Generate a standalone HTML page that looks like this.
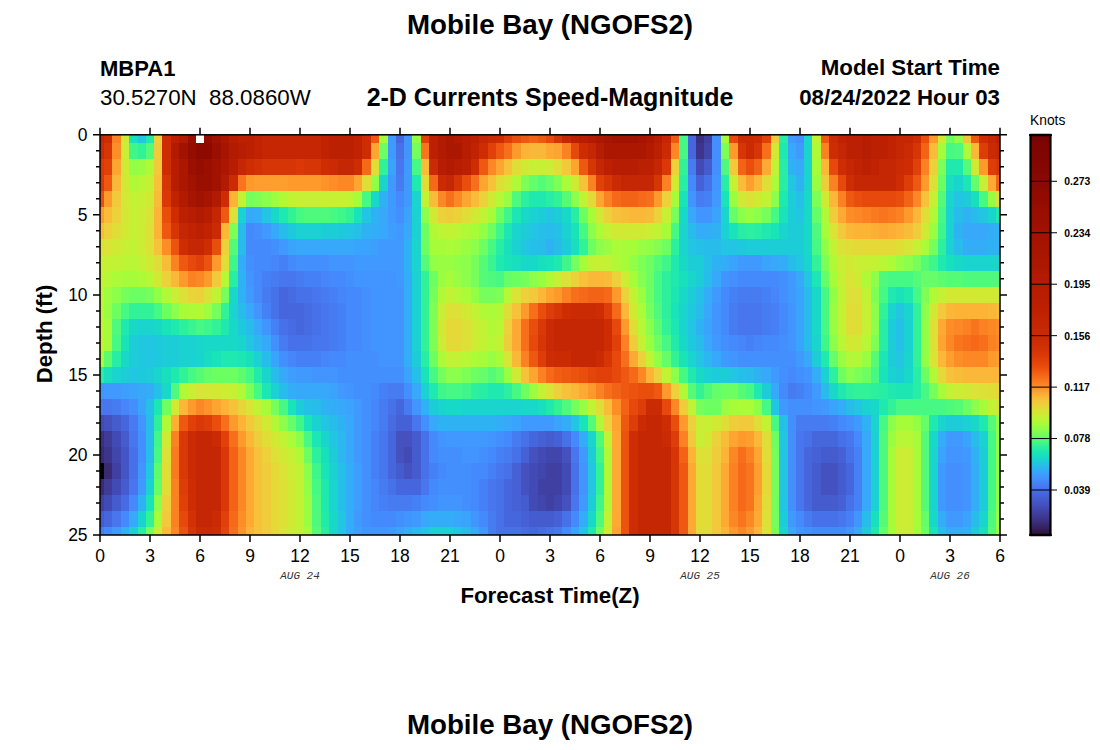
<!DOCTYPE html>
<html><head><meta charset="utf-8">
<style>
html,body{margin:0;padding:0;background:#fff;}
body{width:1100px;height:750px;position:relative;overflow:hidden;font-family:"Liberation Sans",sans-serif;color:#000;}
.t{position:absolute;white-space:pre;line-height:1;}
.b{font-weight:bold;}
svg{position:absolute;left:0;top:0;}
</style></head><body>
<div class="t b" id="title1" style="left:0;width:1100px;text-align:center;top:11.4px;font-size:27.7px;">Mobile Bay (NGOFS2)</div>
<div class="t b" id="stn" style="left:100px;top:57.6px;font-size:22px;">MBPA1</div>
<div class="t" id="ll" style="left:100px;top:87px;font-size:22.3px;">30.5270N  88.0860W</div>
<div class="t b" id="sub" style="left:0;width:1100px;text-align:center;top:84.5px;font-size:25px;">2-D Currents Speed-Magnitude</div>
<div class="t b" id="mst" style="right:100px;top:56.8px;font-size:22.3px;">Model Start Time</div>
<div class="t b" id="dt" style="right:100px;top:87.4px;font-size:22.3px;">08/24/2022 Hour 03</div>
<div class="t b" id="xl" style="left:0;width:1100px;text-align:center;top:585.4px;font-size:22.3px;">Forecast Time(Z)</div>
<div class="t b" id="yl" style="left:45px;top:334px;font-size:22.2px;transform:translate(-50%,-50%) rotate(-90deg);">Depth (ft)</div>
<div class="t b" id="title2" style="left:0;width:1100px;text-align:center;top:711.4px;font-size:27.7px;">Mobile Bay (NGOFS2)</div>
<div class="t" id="kn" style="left:1030px;top:114.2px;font-size:13.8px;">Knots</div>
<svg width="1100" height="750" viewBox="0 0 1100 750" shape-rendering="crispEdges"><path fill="#c52603" d="M100 135H104V143H100zM262 135H271V143H262zM271 135H279V143H271zM279 135H288V143H279zM288 135H296V143H288zM296 135H304V143H296zM304 135H312V143H304zM312 135H321V143H312zM479 135H488V143H479zM562 135H571V143H562zM662 135H671V143H662zM896 135H904V143H896zM904 135H913V143H904zM988 135H996V143H988zM262 143H271V159H262zM271 143H279V159H271zM279 143H288V159H279zM288 143H296V159H288zM296 143H304V159H296zM304 143H312V159H304zM312 143H321V159H312zM588 143H596V159H588zM838 143H846V159H838zM896 143H904V159H896zM996 143H1000V159H996zM238 159H246V175H238zM338 159H346V175H338zM346 159H354V175H346zM596 159H604V175H596zM654 159H662V175H654zM846 159H854V175H846zM879 159H888V175H879zM888 159H896V175H888zM446 175H454V191H446zM621 175H629V191H621zM629 175H638V191H629zM638 175H646V191H638zM646 175H654V191H646zM854 175H862V191H854zM862 175H871V191H862zM871 175H879V191H871zM879 175H888V191H879zM888 175H896V191H888zM212 207H221V223H212zM179 223H188V239H179zM188 239H196V255H188zM196 239H204V255H196zM554 319H562V335H554zM562 319H571V335H562zM571 319H579V335H571zM579 319H588V335H579zM588 319H596V335H588zM596 319H604V335H596zM554 335H562V351H554zM562 335H571V351H562zM571 335H579V351H571zM579 335H588V351H579zM588 335H596V351H588zM596 335H604V351H596zM571 351H579V367H571zM579 351H588V367H579zM588 351H596V367H588zM646 415H654V431H646zM654 415H662V431H654zM196 431H204V447H196zM204 431H212V447H204zM638 431H646V447H638zM646 431H654V447H646zM654 431H662V447H654zM196 447H204V463H196zM204 447H212V463H204zM212 447H221V463H212zM638 447H646V463H638zM646 447H654V463H646zM654 447H662V463H654zM662 447H671V463H662zM196 463H204V479H196zM204 463H212V479H204zM212 463H221V479H212zM638 463H646V479H638zM646 463H654V479H646zM654 463H662V479H654zM662 463H671V479H662zM196 479H204V495H196zM204 479H212V495H204zM212 479H221V495H212zM638 479H646V495H638zM646 479H654V495H646zM654 479H662V495H654zM662 479H671V495H662zM196 495H204V511H196zM204 495H212V511H204zM212 495H221V511H212zM638 495H646V511H638zM646 495H654V511H646zM654 495H662V511H654zM662 495H671V511H662zM196 511H204V527H196zM204 511H212V527H204zM638 511H646V527H638zM646 511H654V527H646zM654 511H662V527H654zM662 511H671V527H662zM638 527H646V535H638zM646 527H654V535H646zM654 527H662V535H654zM662 527H671V535H662z"/><path fill="#ce2d04" d="M104 135H112V143H104zM162 135H171V143H162zM362 135H371V143H362zM496 135H504V143H496zM754 135H762V143H754zM913 135H921V143H913zM979 135H988V143H979zM162 143H171V159H162zM362 143H371V159H362zM479 143H488V159H479zM579 143H588V159H579zM829 143H838V159H829zM162 159H171V175H162zM246 159H254V175H246zM321 159H329V175H321zM354 159H362V175H354zM471 159H479V175H471zM838 159H846V175H838zM904 159H913V175H904zM846 175H854V191H846zM896 175H904V191H896zM221 191H229V207H221zM171 207H179V223H171zM179 239H188V255H179zM204 239H212V255H204zM562 303H571V319H562zM596 303H604V319H596zM604 319H612V335H604zM604 335H612V351H604zM546 351H554V367H546zM662 415H671V431H662zM629 431H638V447H629zM629 447H638V463H629zM629 463H638V479H629zM188 479H196V495H188zM629 479H638V495H629zM188 495H196V511H188zM629 495H638V511H629zM629 511H638V527H629zM212 527H221V535H212zM629 527H638V535H629z"/><path fill="#fb8122" d="M112 135H121V143H112zM562 143H571V159H562zM821 143H829V159H821zM921 159H929V175H921zM588 175H596V191H588zM662 175H671V191H662zM829 175H838V191H829zM604 191H612V207H604zM838 191H846V207H838zM862 207H871V223H862zM896 207H904V223H896zM171 255H179V271H171zM188 271H196V287H188zM562 287H571V303H562zM963 319H971V335H963zM979 319H988V335H979zM621 335H629V351H621zM988 335H996V351H988zM521 351H529V367H521zM538 367H546V383H538zM596 383H604V399H596zM171 431H179V447H171zM679 431H688V447H679zM746 447H754V463H746zM729 463H738V479H729zM171 479H179V495H171zM729 479H738V495H729zM171 495H179V511H171zM729 495H738V511H729zM171 511H179V527H171z"/><path fill="#d0ea34" d="M121 135H129V143H121zM938 135H946V143H938zM771 143H779V159H771zM121 159H129V175H121zM521 159H529V175H521zM971 159H979V175H971zM121 175H129V191H121zM504 175H512V191H504zM571 175H579V191H571zM671 175H679V191H671zM146 191H154V207H146zM488 191H496V207H488zM738 191H746V207H738zM754 191H762V207H754zM821 191H829V207H821zM429 207H438V223H429zM471 207H479V223H471zM596 207H604V223H596zM121 223H129V239H121zM612 223H621V239H612zM621 223H629V239H621zM629 223H638V239H629zM638 223H646V239H638zM921 223H929V239H921zM112 239H121V255H112zM146 255H154V271H146zM846 255H854V271H846zM154 271H162V287H154zM854 271H862V287H854zM946 287H954V303H946zM954 287H963V303H954zM963 287H971V303H963zM971 287H979V303H971zM979 287H988V303H979zM988 287H996V303H988zM996 287H1000V303H996zM462 303H471V319H462zM629 303H638V319H629zM929 303H938V319H929zM438 319H446V335H438zM846 335H854V351H846zM854 335H862V351H854zM512 367H521V383H512zM212 383H221V399H212zM963 383H971V399H963zM171 399H179V415H171zM996 399H1000V415H996zM262 415H271V431H262zM712 415H721V431H712zM162 431H171V447H162zM271 431H279V447H271zM704 431H712V447H704zM279 447H288V463H279zM288 479H296V495H288zM288 495H296V511H288zM288 511H296V527H288z"/><path fill="#18e0bd" d="M129 135H138V143H129zM946 175H954V191H946zM971 191H979V207H971zM504 239H512V255H504zM571 239H579V255H571zM512 255H521V271H512zM538 255H546V271H538zM946 255H954V271H946zM679 271H688V287H679zM246 351H254V367H246zM104 367H112V383H104zM162 367H171V383H162zM538 399H546V415H538zM321 447H329V463H321zM871 511H879V527H871zM979 527H988V535H979z"/><path fill="#22c5e2" d="M138 135H146V143H138zM788 175H796V191H788zM954 191H963V207H954zM262 207H271V223H262zM362 207H371V223H362zM546 207H554V223H546zM796 207H804V223H796zM979 207H988V223H979zM346 223H354V239H346zM529 223H538V239H529zM521 239H529V255H521zM688 239H696V255H688zM721 239H729V255H721zM729 239H738V255H729zM796 255H804V271H796zM804 271H812V287H804zM896 303H904V319H896zM688 319H696V335H688zM146 335H154V351H146zM246 335H254V351H246zM146 351H154V367H146zM696 351H704V367H696zM896 351H904V367H896zM129 367H138V383H129zM729 367H738V383H729zM771 399H779V415H771zM854 399H862V415H854zM321 415H329V431H321zM571 415H579V431H571zM329 431H338V447H329zM779 431H788V447H779zM779 447H788V463H779zM146 463H154V479H146zM588 463H596V479H588zM779 463H788V479H779zM588 479H596V495H588zM779 479H788V495H779zM779 495H788V511H779zM338 511H346V527H338zM338 527H346V535H338zM421 527H429V535H421zM579 527H588V535H579z"/><path fill="#1fe9af" d="M146 135H154V143H146zM779 143H788V159H779zM946 159H954V175H946zM954 159H963V175H954zM412 175H421V191H412zM529 191H538V207H529zM538 191H546V207H538zM779 191H788V207H779zM279 207H288V223H279zM996 207H1000V223H996zM762 223H771V239H762zM496 255H504V271H496zM554 255H562V271H554zM671 255H679V271H671zM938 255H946V271H938zM671 271H679V287H671zM888 287H896V303H888zM904 287H913V303H904zM121 319H129V335H121zM171 319H179V335H171zM221 319H229V335H221zM221 351H229V367H221zM229 351H238V367H229zM821 351H829V367H821zM171 367H179V383H171zM688 367H696V383H688zM429 383H438V399H429zM488 383H496V399H488zM496 383H504V399H496zM754 383H762V399H754zM838 383H846V399H838zM888 383H896V399H888zM546 399H554V415H546zM879 399H888V415H879zM929 415H938V431H929zM979 415H988V431H979zM321 479H329V495H321zM321 495H329V511H321zM588 527H596V535H588zM871 527H879V535H871z"/><path fill="#ecd13a" d="M154 135H162V143H154zM671 159H679V175H671zM929 159H938V175H929zM479 191H488V207H479zM662 191H671V207H662zM112 207H121V223H112zM438 207H446V223H438zM454 207H462V223H454zM604 207H612V223H604zM654 207H662V223H654zM104 223H112V239H104zM221 239H229V255H221zM162 271H171V287H162zM571 271H579V287H571zM612 271H621V287H612zM196 287H204V303H196zM521 287H529V303H521zM621 287H629V303H621zM504 319H512V335H504zM638 351H646V367H638zM654 367H662V383H654zM554 383H562V399H554zM671 383H679V399H671zM604 415H612V431H604zM688 415H696V431H688zM712 431H721V447H712zM262 447H271V463H262zM162 495H171V511H162z"/><path fill="#bc2002" d="M171 135H179V143H171zM238 135H246V143H238zM246 135H254V143H246zM329 135H338V143H329zM338 135H346V143H338zM346 135H354V143H346zM429 135H438V143H429zM471 135H479V143H471zM571 135H579V143H571zM846 135H854V143H846zM854 135H862V143H854zM871 135H879V143H871zM879 135H888V143H879zM996 135H1000V143H996zM246 143H254V159H246zM329 143H338V159H329zM338 143H346V159H338zM346 143H354V159H346zM429 143H438V159H429zM654 143H662V159H654zM846 143H854V159H846zM854 143H862V159H854zM871 143H879V159H871zM879 143H888V159H879zM462 159H471V175H462zM604 159H612V175H604zM638 159H646V175H638zM646 159H654V175H646zM862 159H871V175H862zM179 207H188V223H179zM196 223H204V239H196z"/><path fill="#b21a01" d="M179 135H188V143H179zM438 135H446V143H438zM454 135H462V143H454zM588 135H596V143H588zM171 143H179V159H171zM229 143H238V159H229zM438 143H446V159H438zM646 143H654V159H646zM446 159H454V175H446zM221 175H229V191H221zM179 191H188V207H179zM212 191H221V207H212zM196 207H204V223H196z"/><path fill="#9b0f01" d="M188 135H196V143H188zM212 143H221V159H212zM188 159H196V175H188zM204 159H212V175H204zM196 175H204V191H196zM204 175H212V191H204z"/><path fill="#8e0a01" d="M196 135H204V143H196zM196 143H204V159H196zM204 143H212V159H204z"/><path fill="#950d01" d="M204 135H212V143H204zM188 143H196V159H188zM196 159H204V175H196z"/><path fill="#a11201" d="M212 135H221V143H212zM612 135H621V143H612zM621 135H629V143H621zM629 135H638V143H629zM179 143H188V159H179zM212 159H221V175H212zM188 175H196V191H188zM212 175H221V191H212zM196 191H204V207H196z"/><path fill="#ac1701" d="M221 135H229V143H221zM446 135H454V143H446zM596 135H604V143H596zM646 135H654V143H646zM446 143H454V159H446zM454 143H462V159H454zM604 143H612V159H604zM612 143H621V159H612zM621 143H629V159H621zM629 143H638V159H629zM638 143H646V159H638zM179 159H188V175H179zM221 159H229V175H221zM179 175H188V191H179z"/><path fill="#b71d02" d="M229 135H238V143H229zM462 135H471V143H462zM579 135H588V143H579zM654 135H662V143H654zM862 135H871V143H862zM238 143H246V159H238zM462 143H471V159H462zM596 143H604V159H596zM862 143H871V159H862zM171 159H179V175H171zM229 159H238V175H229zM438 159H446V175H438zM454 159H462V175H454zM612 159H621V175H612zM621 159H629V175H621zM629 159H638V175H629zM171 175H179V191H171zM188 207H196V223H188zM204 207H212V223H204z"/><path fill="#c12302" d="M254 135H262V143H254zM321 135H329V143H321zM354 135H362V143H354zM838 135H846V143H838zM888 135H896V143H888zM254 143H262V159H254zM321 143H329V159H321zM354 143H362V159H354zM471 143H479V159H471zM888 143H896V159H888zM854 159H862V175H854zM871 159H879V175H871zM171 191H179V207H171zM188 223H196V239H188zM204 223H212V239H204z"/><path fill="#ef5811" d="M371 135H379V143H371zM521 135H529V143H521zM538 135H546V143H538zM671 135H679V143H671zM821 135H829V143H821zM971 135H979V143H971zM496 143H504V159H496zM479 159H488V175H479zM579 159H588V175H579zM104 175H112V191H104zM913 175H921V191H913zM846 191H854V207H846zM221 207H229V223H221zM162 223H171V239H162zM179 255H188V271H179zM529 351H538V367H529zM562 367H571V383H562zM621 367H629V383H621zM621 383H629V399H621zM654 383H662V399H654zM179 415H188V431H179zM621 415H629V431H621zM679 463H688V479H679zM679 479H688V495H679zM679 495H688V511H679zM679 511H688V527H679zM679 527H688V535H679z"/><path fill="#a7fc3a" d="M379 135H388V143H379zM721 135H729V143H721zM938 143H946V159H938zM812 159H821V175H812zM354 191H362V207H354zM671 191H679V207H671zM488 207H496V223H488zM588 207H596V223H588zM471 223H479V239H471zM662 223H671V239H662zM821 223H829V239H821zM429 239H438V255H429zM438 239H446V255H438zM454 239H462V255H454zM621 239H629V255H621zM629 239H638V255H629zM579 255H588V271H579zM621 255H629V271H621zM121 271H129V287H121zM129 271H138V287H129zM446 271H454V287H446zM629 271H638V287H629zM829 271H838V287H829zM179 303H188V319H179zM104 319H112V335H104zM104 335H112V351H104zM100 351H104V367H100zM479 351H488V367H479zM496 351H504V367H496zM938 383H946V399H938zM262 399H271V415H262zM729 399H738V415H729zM979 399H988V415H979zM896 415H904V431H896zM904 415H913V431H904zM913 431H921V447H913zM888 447H896V463H888zM913 447H921V463H913zM888 463H896V479H888zM913 463H921V479H913zM888 479H896V495H888zM913 479H921V495H913zM888 495H896V511H888zM913 495H921V511H913zM154 511H162V527H154zM888 511H896V527H888zM913 511H921V527H913zM304 527H312V535H304zM888 527H896V535H888zM913 527H921V535H913z"/><path fill="#4099ff" d="M388 135H396V143H388zM788 135H796V143H788zM388 143H396V159H388zM796 143H804V159H796zM404 159H412V175H404zM388 175H396V191H388zM404 175H412V191H404zM388 191H396V207H388zM404 191H412V207H404zM712 191H721V207H712zM388 207H396V223H388zM262 223H271V239H262zM396 223H404V239H396zM279 239H288V255H279zM379 239H388V255H379zM388 239H396V255H388zM396 239H404V255H396zM354 255H362V271H354zM362 255H371V271H362zM371 255H379V271H371zM379 255H388V271H379zM388 255H396V271H388zM396 255H404V271H396zM738 255H746V271H738zM746 255H754V271H746zM754 255H762V271H754zM396 271H404V287H396zM788 271H796V287H788zM246 287H254V303H246zM712 287H721V303H712zM788 287H796V303H788zM712 335H721V351H712zM721 351H729V367H721zM796 351H804V367H796zM296 367H304V383H296zM304 367H312V383H304zM771 367H779V383H771zM104 383H112V399H104zM112 383H121V399H112zM338 383H346V399H338zM812 383H821V399H812zM354 399H362V415H354zM779 399H788V415H779zM821 399H829V415H821zM354 415H362V431H354zM521 415H529V431H521zM529 415H538V431H529zM538 415H546V431H538zM546 415H554V431H546zM854 415H862V431H854zM354 431H362V447H354zM446 431H454V447H446zM454 431H462V447H454zM462 431H471V447H462zM471 431H479V447H471zM479 431H488V447H479zM946 431H954V447H946zM954 431H963V447H954zM354 447H362V463H354zM579 447H588V463H579zM963 447H971V463H963zM938 463H946V479H938zM138 479H146V495H138zM938 479H946V495H938zM579 495H588V511H579zM938 495H946V511H938zM354 511H362V527H354zM412 511H421V527H412zM788 511H796V527H788zM946 511H954V527H946zM954 511H963V527H954zM112 527H121V535H112zM388 527H396V535H388z"/><path fill="#4666dd" d="M396 135H404V143H396zM688 135H696V143H688zM688 143H696V159H688zM279 287H288V303H279zM279 303H288V319H279zM288 303H296V319H288zM296 303H304V319H296zM296 319H304V335H296zM396 399H404V415H396zM121 415H129V431H121zM388 431H396V447H388zM529 431H538V447H529zM812 431H821V447H812zM821 431H829V447H821zM829 431H838V447H829zM388 447H396V463H388zM804 447H812V463H804zM388 463H396V479H388zM804 463H812V479H804zM846 463H854V479H846zM396 479H404V495H396zM404 479H412V495H404zM412 479H421V495H412zM504 479H512V495H504zM804 479H812V495H804zM846 479H854V495H846zM504 495H512V511H504zM804 495H812V511H804zM104 511H112V527H104zM504 511H512V527H504zM512 511H521V527H512zM529 527H538V535H529z"/><path fill="#4294ff" d="M404 135H412V143H404zM404 143H412V159H404zM712 175H721V191H712zM688 191H696V207H688zM696 207H704V223H696zM704 207H712V223H704zM329 255H338V271H329zM338 255H346V271H338zM346 255H354V271H346zM246 271H254V287H246zM354 271H362V287H354zM362 271H371V287H362zM371 271H379V287H371zM379 271H388V287H379zM388 271H396V287H388zM721 271H729V287H721zM371 287H379V303H371zM379 287H388V303H379zM388 287H396V303H388zM396 287H404V303H396zM254 303H262V319H254zM371 303H379V319H371zM379 303H388V319H379zM388 303H396V319H388zM396 303H404V319H396zM712 303H721V319H712zM788 303H796V319H788zM262 319H271V335H262zM371 319H379V335H371zM379 319H388V335H379zM388 319H396V335H388zM396 319H404V335H396zM712 319H721V335H712zM788 319H796V335H788zM371 335H379V351H371zM379 335H388V351H379zM388 335H396V351H388zM396 335H404V351H396zM788 335H796V351H788zM379 351H388V367H379zM388 351H396V367H388zM396 351H404V367H396zM729 351H738V367H729zM312 367H321V383H312zM321 367H329V383H321zM329 367H338V383H329zM804 367H812V383H804zM100 383H104V399H100zM346 383H354V399H346zM412 399H421V415H412zM812 399H821V415H812zM138 415H146V431H138zM438 431H446V447H438zM488 431H496V447H488zM462 447H471V463H462zM471 447H479V463H471zM946 447H954V463H946zM954 447H963V463H954zM138 463H146V479H138zM579 463H588V479H579zM963 463H971V479H963zM579 479H588V495H579zM963 479H971V495H963zM438 495H446V511H438zM446 495H454V511H446zM454 495H462V511H454zM963 495H971V511H963zM404 511H412V527H404zM471 511H479V527H471zM854 511H862V527H854zM362 527H371V535H362zM371 527H379V535H371zM379 527H388V535H379zM479 527H488V535H479zM796 527H804V535H796zM846 527H854V535H846z"/><path fill="#92ff47" d="M412 135H421V143H412zM954 135H963V143H954zM129 159H138V175H129zM371 175H379V191H371zM479 223H488V239H479zM646 239H654V255H646zM821 239H829V255H821zM429 255H438V271H429zM454 255H462V271H454zM629 255H638V271H629zM154 287H162V303H154zM471 287H479V303H471zM829 287H838V303H829zM921 319H929V335H921zM921 335H929V351H921zM654 351H662V367H654zM921 351H929V367H921zM754 399H762V415H754zM913 415H921V431H913zM996 415H1000V431H996zM996 431H1000V447H996zM996 447H1000V463H996zM996 463H1000V479H996zM304 479H312V495H304zM996 479H1000V495H996zM996 495H1000V511H996z"/><path fill="#e14109" d="M421 135H429V143H421zM762 135H771V143H762zM488 143H496V159H488zM104 159H112V175H104zM913 159H921V175H913zM596 175H604V191H596zM196 255H204V271H196zM612 335H621V351H612zM596 367H604V383H596zM604 367H612V383H604zM188 415H196V431H188zM221 431H229V447H221zM179 495H188V511H179zM221 511H229V527H221z"/><path fill="#ca2a04" d="M488 135H496V143H488zM738 135H746V143H738zM746 135H754V143H746zM829 135H838V143H829zM100 143H104V159H100zM662 143H671V159H662zM746 143H754V159H746zM904 143H913V159H904zM988 143H996V159H988zM329 159H338V175H329zM429 159H438V175H429zM896 159H904V175H896zM229 175H238V191H229zM438 175H446V191H438zM612 175H621V191H612zM212 223H221V239H212zM571 303H579V319H571zM579 303H588V319H579zM588 303H596V319H588zM546 319H554V335H546zM546 335H554V351H546zM554 351H562V367H554zM562 351H571V367H562zM596 351H604V367H596zM646 399H654V415H646zM654 399H662V415H654zM638 415H646V431H638zM188 431H196V447H188zM212 431H221V447H212zM662 431H671V447H662zM188 447H196V463H188zM188 463H196V479H188zM212 511H221V527H212zM196 527H204V535H196zM204 527H212V535H204z"/><path fill="#dd3d08" d="M504 135H512V143H504zM979 143H988V159H979zM988 159H996V175H988zM904 175H913V191H904zM546 303H554V319H546zM604 303H612V319H604zM538 351H546V367H538zM638 399H646V415H638zM204 415H212V431H204zM629 415H638V431H629zM671 431H679V447H671zM179 479H188V495H179z"/><path fill="#ea4e0d" d="M512 135H521V143H512zM921 135H929V143H921zM746 159H754V175H746zM462 175H471V191H462zM100 191H104V207H100zM854 191H862V207H854zM896 191H904V207H896zM162 207H171V223H162zM212 239H221V255H212zM538 303H546V319H538zM529 319H538V335H529zM579 367H588V383H579zM638 383H646V399H638zM646 383H654V399H646zM212 415H221V431H212zM671 415H679V431H671z"/><path fill="#f36315" d="M529 135H538V143H529zM921 143H929V159H921zM738 159H746V175H738zM754 159H762V175H754zM996 175H1000V191H996zM621 191H629V207H621zM629 191H638V207H629zM904 191H913V207H904zM588 287H596V303H588zM596 287H604V303H596zM612 383H621V399H612zM621 399H629V415H621zM229 447H238V463H229zM679 447H688V463H679zM229 463H238V479H229zM229 479H238V495H229zM229 495H238V511H229z"/><path fill="#e7490c" d="M546 135H554V143H546zM729 135H738V143H729zM571 143H579V159H571zM829 159H838V175H829zM838 175H846V191H838zM862 191H871V207H862zM871 191H879V207H871zM879 191H888V207H879zM888 191H896V207H888zM188 255H196V271H188zM612 319H621V335H612zM529 335H538V351H529zM612 351H621V367H612zM612 367H621V383H612zM629 399H638V415H629zM662 399H671V415H662zM179 511H188V527H179z"/><path fill="#d63506" d="M554 135H562V143H554zM104 143H112V159H104zM738 143H746V159H738zM754 143H762V159H754zM913 143H921V159H913zM262 159H271V175H262zM271 159H279V175H271zM279 159H288V175H279zM288 159H296V175H288zM304 159H312V175H304zM312 159H321V175H312zM588 159H596V175H588zM996 159H1000V175H996zM162 175H171V191H162zM454 175H462V191H454zM604 175H612V191H604zM654 175H662V191H654zM171 223H179V239H171zM554 303H562V319H554zM538 335H546V351H538zM604 351H612V367H604zM671 447H679V463H671zM671 463H679V479H671zM671 479H679V495H671zM671 495H679V511H671zM671 511H679V527H671zM188 527H196V535H188zM671 527H679V535H671z"/><path fill="#a71401" d="M604 135H612V143H604zM638 135H646V143H638zM221 143H229V159H221zM188 191H196V207H188zM204 191H212V207H204z"/><path fill="#46f884" d="M679 135H688V143H679zM679 143H688V159H679zM946 143H954V159H946zM412 159H421V175H412zM362 191H371V207H362zM979 191H988V207H979zM296 207H304V223H296zM329 207H338V223H329zM771 207H779V223H771zM938 207H946V223H938zM579 223H588V239H579zM671 223H679V239H671zM488 239H496V255H488zM812 239H821V255H812zM496 271H504V287H496zM654 271H662V287H654zM888 271H896V287H888zM896 271H904V287H896zM904 271H913V287H904zM654 287H662V303H654zM821 287H829V303H821zM879 287H888V303H879zM913 287H921V303H913zM121 303H129V319H121zM154 303H162V319H154zM821 303H829V319H821zM196 319H204V335H196zM821 319H829V335H821zM112 335H121V351H112zM662 335H671V351H662zM188 367H196V383H188zM246 367H254V383H246zM429 367H438V383H429zM679 367H688V383H679zM871 367H879V383H871zM254 383H262V399H254zM446 383H454V399H446zM454 383H462V399H454zM512 383H521V399H512zM746 383H754V399H746zM921 383H929V399H921zM279 399H288V415H279zM762 399H771V415H762zM896 399H904V415H896zM904 399H913V415H904zM913 399H921V415H913zM921 399H929V415H921zM929 399H938V415H929zM938 399H946V415H938zM771 415H779V431H771zM879 415H888V431H879zM304 431H312V447H304zM988 431H996V447H988zM154 447H162V463H154zM988 447H996V463H988zM988 463H996V479H988zM312 479H321V495H312zM988 479H996V495H988zM988 495H996V511H988z"/><path fill="#3b2f80" d="M696 135H704V143H696zM100 431H104V447H100z"/><path fill="#4040a2" d="M704 135H712V143H704zM112 463H121V479H112zM546 463H554V479H546zM554 463H562V479H554zM538 479H546V495H538zM546 479H554V495H546zM554 479H562V495H554zM100 495H104V511H100zM546 495H554V511H546z"/><path fill="#448ffe" d="M712 135H721V143H712zM796 135H804V143H796zM712 143H721V159H712zM712 159H721V175H712zM396 207H404V223H396zM254 223H262V239H254zM271 239H279V255H271zM246 255H254V271H246zM296 255H304V271H296zM304 255H312V271H304zM312 255H321V271H312zM321 255H329V271H321zM346 271H354V287H346zM729 271H738V287H729zM779 271H788V287H779zM362 287H371V303H362zM779 287H788V303H779zM362 303H371V319H362zM362 319H371V335H362zM271 335H279V351H271zM362 335H371V351H362zM721 335H729V351H721zM779 335H788V351H779zM279 351H288V367H279zM346 351H354V367H346zM354 351H362V367H354zM362 351H371V367H362zM371 351H379V367H371zM738 351H746V367H738zM746 351H754V367H746zM754 351H762V367H754zM762 351H771V367H762zM771 351H779V367H771zM779 351H788V367H779zM788 351H796V367H788zM338 367H346V383H338zM346 367H354V383H346zM354 367H362V383H354zM362 367H371V383H362zM371 367H379V383H371zM379 367H388V383H379zM388 367H396V383H388zM396 367H404V383H396zM779 367H788V383H779zM796 367H804V383H796zM354 383H362V399H354zM362 383H371V399H362zM404 383H412V399H404zM129 399H138V415H129zM362 399H371V415H362zM788 399H796V415H788zM796 399H804V415H796zM804 399H812V415H804zM362 415H371V431H362zM421 415H429V431H421zM788 415H796V431H788zM846 415H854V431H846zM138 431H146V447H138zM362 431H371V447H362zM496 431H504V447H496zM788 431H796V447H788zM138 447H146V463H138zM362 447H371V463H362zM438 447H446V463H438zM446 447H454V463H446zM454 447H462V463H454zM479 447H488V463H479zM788 447H796V463H788zM362 463H371V479H362zM446 463H454V479H446zM454 463H462V479H454zM462 463H471V479H462zM788 463H796V479H788zM946 463H954V479H946zM954 463H963V479H954zM362 479H371V495H362zM438 479H446V495H438zM446 479H454V495H446zM454 479H462V495H454zM462 479H471V495H462zM788 479H796V495H788zM946 479H954V495H946zM954 479H963V495H954zM362 495H371V511H362zM429 495H438V511H429zM462 495H471V511H462zM788 495H796V511H788zM946 495H954V511H946zM954 495H963V511H954zM362 511H371V527H362zM396 511H404V527H396zM804 527H812V535H804z"/><path fill="#f2c93a" d="M771 135H779V143H771zM154 159H162V175H154zM562 159H571V175H562zM729 159H738V175H729zM112 191H121V207H112zM838 223H846V239H838zM212 271H221V287H212zM529 287H538V303H529zM938 303H946V319H938zM246 415H254V431H246zM738 415H746V431H738zM746 415H754V431H746zM688 431H696V447H688zM712 463H721V479H712zM712 479H721V495H712zM712 495H721V511H712zM162 511H171V527H162zM712 511H721V527H712zM712 527H721V535H712z"/><path fill="#27eea4" d="M779 135H788V143H779zM779 159H788V175H779zM679 175H688V191H679zM721 175H729V191H721zM779 175H788V191H779zM546 191H554V207H546zM571 207H579V223H571zM738 223H746V239H738zM754 223H762V239H754zM496 239H504V255H496zM229 271H238V287H229zM879 319H888V335H879zM879 335H888V351H879zM112 351H121V367H112zM421 351H429V367H421zM100 367H104V383H100zM913 367H921V383H913zM479 383H488V399H479zM879 383H888V399H879zM913 383H921V399H913zM138 527H146V535H138zM321 527H329V535H321z"/><path fill="#19d5cd" d="M804 135H812V143H804zM804 143H812V159H804zM804 159H812V175H804zM379 175H388V191H379zM804 175H812V191H804zM954 175H963V191H954zM412 191H421V207H412zM946 191H954V207H946zM721 207H729V223H721zM988 207H996V223H988zM512 223H521V239H512zM679 223H688V239H679zM779 223H788V239H779zM412 239H421V255H412zM679 239H688V255H679zM412 255H421V271H412zM804 255H812V271H804zM963 255H971V271H963zM971 255H979V271H971zM979 255H988V271H979zM988 255H996V271H988zM996 255H1000V271H996zM688 271H696V287H688zM229 303H238V319H229zM679 303H688V319H679zM888 303H896V319H888zM904 303H913V319H904zM138 319H146V335H138zM146 319H154V335H146zM679 319H688V335H679zM196 335H204V351H196zM238 335H246V351H238zM812 335H821V351H812zM196 351H204V367H196zM688 351H696V367H688zM904 351H913V367H904zM112 367H121V383H112zM154 367H162V383H154zM262 367H271V383H262zM438 399H446V415H438zM462 399H471V415H462zM471 399H479V415H471zM479 399H488V415H479zM488 399H496V415H488zM496 399H504V415H496zM504 399H512V415H504zM512 399H521V415H512zM871 415H879V431H871zM938 415H946V431H938zM321 431H329V447H321zM588 431H596V447H588zM929 447H938V463H929zM929 463H938V479H929zM329 479H338V495H329zM929 479H938V495H929zM329 495H338V511H329zM929 495H938V511H929zM979 511H988V527H979zM779 527H788V535H779z"/><path fill="#c1f334" d="M812 135H821V143H812zM771 159H779V175H771zM129 191H138V207H129zM288 191H296V207H288zM346 191H354V207H346zM421 191H429V207H421zM579 191H588V207H579zM762 191H771V207H762zM479 207H488V223H479zM446 223H454V239H446zM604 223H612V239H604zM654 223H662V239H654zM129 239H138V255H129zM829 239H838V255H829zM112 255H121V271H112zM138 255H146V271H138zM588 255H596V271H588zM604 255H612V271H604zM871 255H879V271H871zM100 287H104V303H100zM212 287H221V303H212zM446 287H454V303H446zM629 287H638V303H629zM838 287H846V303H838zM862 287H871V303H862zM100 303H104V319H100zM471 303H479V319H471zM838 303H846V319H838zM479 319H488V335H479zM838 319H846V335H838zM479 335H488V351H479zM496 335H504V351H496zM446 351H454V367H446zM454 351H462V367H454zM646 351H654V367H646zM662 367H671V383H662zM538 383H546V399H538zM946 383H954V399H946zM254 399H262V415H254zM588 399H596V415H588zM688 399H696V415H688zM988 399H996V415H988zM762 415H771V431H762zM279 431H288V447H279zM604 431H612V447H604zM296 463H304V479H296zM296 479H304V495H296zM296 495H304V511H296zM296 511H304V527H296zM604 511H612V527H604zM296 527H304V535H296z"/><path fill="#fe992c" d="M929 135H938V143H929zM512 143H521V159H512zM729 143H738V159H729zM979 159H988V175H979zM246 175H254V191H246zM288 175H296V191H288zM296 175H304V191H296zM304 175H312V191H304zM312 175H321V191H312zM921 175H929V191H921zM104 191H112V207H104zM654 191H662V207H654zM100 207H104V223H100zM904 207H913V223H904zM212 255H221V271H212zM179 271H188V287H179zM204 271H212V287H204zM554 287H562V303H554zM612 287H621V303H612zM521 303H529V319H521zM621 319H629V335H621zM988 351H996V367H988zM588 383H596V399H588zM662 383H671V399H662zM188 399H196V415H188zM229 415H238V431H229zM679 415H688V431H679zM238 431H246V447H238zM738 431H746V447H738zM729 527H738V535H729zM746 527H754V535H746z"/><path fill="#6dfe62" d="M946 135H954V143H946zM379 143H388V159H379zM938 175H946V191H938zM496 207H504V223H496zM579 207H588V223H579zM421 223H429V239H421zM488 223H496V239H488zM421 239H429V255H421zM479 239H488V255H479zM588 239H596V255H588zM662 239H671V255H662zM646 255H654V271H646zM429 271H438V287H429zM512 271H521V287H512zM646 271H654V287H646zM129 287H138V303H129zM138 287H146V303H138zM646 287H654V303H646zM112 303H121V319H112zM162 303H171V319H162zM654 335H662V351H654zM429 351H438V367H429zM212 367H221V383H212zM221 367H229V383H221zM229 367H238V383H229zM471 367H479V383H471zM838 367H846V383H838zM862 367H871V383H862zM921 367H929V383H921zM521 383H529V399H521zM721 383H729V399H721zM729 383H738V399H729zM162 399H171V415H162zM704 399H712V415H704zM712 399H721V415H712zM963 399H971V415H963zM771 431H779V447H771zM304 447H312V463H304zM596 527H604V535H596zM921 527H929V535H921z"/><path fill="#f7c13a" d="M963 135H971V143H963zM504 159H512V175H504zM154 175H162V191H154zM488 175H496V191H488zM579 175H588V191H579zM921 191H929V207H921zM612 207H621V223H612zM154 239H162V255H154zM579 271H588V287H579zM512 303H521V319H512zM521 367H529V383H521zM946 367H954V383H946zM562 383H571V399H562zM229 399H238V415H229zM254 447H262V463H254zM254 463H262V479H254zM254 479H262V495H254zM254 495H262V511H254zM254 511H262V527H254zM254 527H262V535H254z"/><path fill="#fd8d27" d="M112 143H121V159H112zM329 175H338V191H329zM846 207H854V223H846zM162 239H171V255H162zM946 319H954V335H946zM996 319H1000V335H996zM954 351H963V367H954zM612 399H621V415H612zM238 511H246V527H238z"/><path fill="#cbed34" d="M121 143H129V159H121zM546 159H554V175H546zM138 207H146V223H138zM138 223H146V239H138zM646 223H654V239H646zM138 239H146V255H138zM100 255H104V271H100zM838 255H846V271H838zM854 255H862V271H854zM621 271H629V287H621zM171 287H179V303H171zM471 319H479V335H471zM438 335H446V351H438zM471 335H479V351H471zM188 383H196V399H188zM221 383H229V399H221zM954 383H963V399H954zM696 415H704V431H696zM896 447H904V463H896zM904 447H913V463H904zM288 463H296V479H288zM896 463H904V479H896zM904 463H913V479H904zM896 479H904V495H896zM904 479H913V495H904zM896 495H904V511H896zM904 495H913V511H904zM896 511H904V527H896zM904 511H913V527H904zM154 527H162V535H154zM288 527H296V535H288zM604 527H612V535H604zM896 527H904V535H896zM904 527H913V535H904z"/><path fill="#3ff68a" d="M129 143H138V159H129zM338 207H346V223H338zM504 207H512V223H504zM496 223H504V239H496zM938 223H946V239H938zM229 255H238V271H229zM562 255H571V271H562zM662 255H671V271H662zM929 255H938V271H929zM204 319H212V335H204zM821 335H829V351H821zM438 383H446V399H438zM462 383H471V399H462zM296 415H304V431H296zM154 431H162V447H154zM596 447H604V463H596zM312 463H321V479H312zM596 495H604V511H596z"/><path fill="#32f298" d="M138 143H146V159H138zM379 159H388V175H379zM679 159H688V175H679zM554 191H562V207H554zM288 207H296V223H288zM346 207H354V223H346zM579 239H588V255H579zM812 255H821V271H812zM421 271H429V287H421zM421 287H429V303H421zM129 303H138V319H129zM138 303H146V319H138zM146 303H154V319H146zM221 303H229V319H221zM421 303H429V319H421zM879 303H888V319H879zM913 303H921V319H913zM212 319H221V335H212zM421 319H429V335H421zM662 319H671V335H662zM913 319H921V335H913zM421 335H429V351H421zM913 335H921V351H913zM671 351H679V367H671zM913 351H921V367H913zM179 367H188V383H179zM696 383H704V399H696zM854 383H862V399H854zM862 383H871V399H862zM554 399H562V415H554zM888 399H896V415H888zM596 463H604V479H596zM596 479H604V495H596zM146 511H154V527H146z"/><path fill="#55fa76" d="M146 143H154V159H146zM963 159H971V175H963zM538 175H546V191H538zM562 191H571V207H562zM938 191H946V207H938zM229 239H238V255H229zM421 255H429V271H421zM479 255H488V271H479zM654 255H662V271H654zM921 255H929V271H921zM479 271H488V287H479zM913 271H921V287H913zM946 271H954V287H946zM954 271H963V287H954zM871 351H879V367H871zM196 367H204V383H196zM488 367H496V383H488zM688 383H696V399H688zM738 383H746V399H738zM954 399H963V415H954zM588 415H596V431H588zM988 415H996V431H988zM921 431H929V447H921zM921 447H929V463H921zM921 463H929V479H921zM921 479H929V495H921zM921 495H929V511H921zM879 511H888V527H879zM312 527H321V535H312zM988 527H996V535H988z"/><path fill="#efcd3a" d="M154 143H162V159H154zM821 175H829V191H821zM446 207H454V223H446zM829 207H838V223H829zM913 223H921V239H913zM504 335H512V351H504zM629 335H638V351H629zM679 399H688V415H679zM729 415H738V431H729zM254 431H262V447H254zM712 447H721V463H712zM262 463H271V479H262zM262 479H271V495H262zM262 495H271V511H262zM262 511H271V527H262zM262 527H271V535H262z"/><path fill="#fea431" d="M371 143H379V159H371zM554 143H562V159H554zM112 159H121V175H112zM496 159H504V175H496zM571 159H579V175H571zM354 175H362V191H354zM479 175H488V191H479zM462 191H471V207H462zM596 191H604V207H596zM546 287H554V303H546zM938 335H946V351H938zM529 367H538V383H529zM212 399H221V415H212zM612 415H621V431H612zM729 431H738V447H729zM754 447H762V463H754zM754 495H762V511H754zM612 527H621V535H612z"/><path fill="#4771e9" d="M396 143H404V159H396zM704 175H712V191H704zM271 287H279V303H271zM296 287H304V303H296zM304 287H312V303H304zM271 303H279V319H271zM312 303H321V319H312zM279 319H288V335H279zM312 319H321V335H312zM288 335H296V351H288zM296 335H304V351H296zM304 335H312V351H304zM388 399H396V415H388zM421 431H429V447H421zM521 431H529V447H521zM562 431H571V447H562zM804 431H812V447H804zM838 431H846V447H838zM129 447H138V463H129zM421 447H429V463H421zM512 447H521V463H512zM846 447H854V463H846zM129 463H138V479H129zM421 463H429V479H421zM504 463H512V479H504zM571 463H579V479H571zM388 479H396V495H388zM496 479H504V495H496zM571 479H579V495H571zM496 495H504V511H496zM846 495H854V511H846zM496 511H504V527H496zM562 511H571V527H562zM812 511H821V527H812zM821 511H829V527H821zM829 511H838V527H829zM496 527H504V535H496zM504 527H512V535H504zM512 527H521V535H512zM546 527H554V535H546z"/><path fill="#75fe5c" d="M412 143H421V159H412zM246 191H254V207H246zM671 207H679V223H671zM762 207H771V223H762zM929 239H938V255H929zM471 255H479V271H471zM571 255H579V271H571zM913 255H921V271H913zM471 271H479V287H471zM521 271H529V287H521zM121 287H129V303H121zM146 287H154V303H146zM221 287H229V303H221zM429 287H438V303H429zM479 287H488V303H479zM488 287H496V303H488zM212 303H221V319H212zM646 303H654V319H646zM438 367H446V383H438zM929 383H938V399H929zM271 399H279V415H271zM571 399H579V415H571zM696 399H704V415H696zM771 447H779V463H771zM771 463H779V479H771zM771 479H779V495H771zM771 495H779V511H771zM771 511H779V527H771zM146 527H154V535H146zM771 527H779V535H771z"/><path fill="#f9751d" d="M421 143H429V159H421zM238 175H246V191H238zM879 207H888V223H879zM971 319H979V335H971zM954 335H963V351H954zM746 463H754V479H746zM746 479H754V495H746zM746 495H754V511H746zM738 511H746V527H738z"/><path fill="#f76f1a" d="M504 143H512V159H504zM762 143H771V159H762zM471 175H479V191H471zM446 191H454V207H446zM646 191H654V207H646zM571 287H579V303H571zM529 303H538V319H529zM521 319H529V335H521zM521 335H529V351H521zM963 335H971V351H963zM979 335H988V351H979zM621 351H629V367H621zM604 383H612V399H604zM221 415H229V431H221zM229 431H238V447H229zM738 447H746V463H738zM229 527H238V535H229z"/><path fill="#fcb336" d="M521 143H529V159H521zM229 191H238V207H229zM154 207H162V223H154zM154 223H162V239H154zM854 223H862V239H854zM862 223H871V239H862zM896 223H904V239H896zM954 303H963V319H954zM963 303H971V319H963zM971 303H979V319H971zM979 303H988V319H979zM646 367H654V383H646zM221 399H229V415H221zM238 415H246V431H238zM688 447H696V463H688zM721 447H729V463H721zM246 527H254V535H246zM721 527H729V535H721z"/><path fill="#fbb838" d="M529 143H538V159H529zM538 143H546V159H538zM971 143H979V159H971zM821 159H829V175H821zM112 175H121V191H112zM754 175H762V191H754zM829 191H838V207H829zM629 207H638V223H629zM638 207H646V223H638zM913 207H921V223H913zM221 223H229V239H221zM846 223H854V239H846zM171 271H179V287H171zM588 271H596V287H588zM596 271H604V287H596zM538 287H546V303H538zM621 303H629V319H621zM946 303H954V319H946zM988 303H996V319H988zM512 351H521V367H512zM938 351H946V367H938zM963 367H971V383H963zM971 367H979V383H971zM979 367H988V383H979zM988 367H996V383H988zM996 367H1000V383H996zM571 383H579V399H571zM179 399H188V415H179zM246 431H254V447H246zM754 431H762V447H754zM754 527H762V535H754z"/><path fill="#fea933" d="M546 143H554V159H546zM762 159H771V175H762zM988 175H996V191H988zM838 207H846V223H838zM879 223H888V239H879zM512 319H521V335H512zM938 319H946V335H938zM512 335H521V351H512zM629 351H638V367H629zM579 383H588V399H579zM612 431H621V447H612zM246 447H254V463H246zM612 447H621V463H612zM246 463H254V479H246zM612 463H621V479H612zM688 463H696V479H688zM721 463H729V479H721zM246 479H254V495H246zM612 479H621V495H612zM688 479H696V495H688zM721 479H729V495H721zM246 495H254V511H246zM612 495H621V511H612zM688 495H696V511H688zM721 495H729V511H721zM246 511H254V527H246zM612 511H621V527H612zM688 511H696V527H688zM721 511H729V527H721zM754 511H762V527H754zM688 527H696V535H688z"/><path fill="#fc8725" d="M671 143H679V159H671zM488 159H496V175H488zM338 175H346V191H338zM346 175H354V191H346zM438 191H446V207H438zM454 191H462V207H454zM913 191H921V207H913zM854 207H862V223H854zM196 271H204V287H196zM954 319H963V335H954zM988 319H996V335H988zM946 335H954V351H946zM996 335H1000V351H996zM963 351H971V367H963zM971 351H979V367H971zM979 351H988V367H979zM638 367H646V383H638zM196 399H204V415H196zM671 399H679V415H671zM238 447H246V463H238zM729 447H738V463H729zM238 463H246V479H238zM238 479H246V495H238zM238 495H246V511H238zM729 511H738V527H729zM746 511H754V527H746zM171 527H179V535H171zM738 527H746V535H738z"/><path fill="#3d358b" d="M696 143H704V159H696zM104 447H112V463H104z"/><path fill="#4146ac" d="M704 143H712V159H704zM112 447H121V463H112zM546 447H554V463H546zM554 447H562V463H554zM538 463H546V479H538zM538 495H546V511H538zM554 495H562V511H554z"/><path fill="#7dff56" d="M721 143H729V159H721zM938 159H946V175H938zM521 175H529V191H521zM554 175H562V191H554zM254 191H262V207H254zM812 191H821V207H812zM229 223H238V239H229zM638 255H646V271H638zM821 255H829V271H821zM496 287H504V303H496zM871 287H879V303H871zM921 287H929V303H921zM429 303H438V319H429zM429 319H438V335H429zM429 335H438V351H429zM871 335H879V351H871zM462 367H471V383H462zM854 367H862V383H854zM246 383H254V399H246z"/><path fill="#37a8fa" d="M788 143H796V159H788zM796 159H804V175H796zM246 207H254V223H246zM379 207H388V223H379zM688 207H696V223H688zM271 223H279V239H271zM379 223H388V239H379zM404 223H412V239H404zM963 223H971V239H963zM971 223H979V239H971zM979 223H988V239H979zM296 239H304V255H296zM304 239H312V255H304zM312 239H321V255H312zM321 239H329V255H321zM329 239H338V255H329zM338 239H346V255H338zM346 239H354V255H346zM771 255H779V271H771zM712 271H721V287H712zM796 271H804V287H796zM246 303H254V319H246zM704 303H712V319H704zM254 319H262V335H254zM262 335H271V351H262zM704 335H712V351H704zM712 351H721V367H712zM804 351H812V367H804zM279 367H288V383H279zM762 367H771V383H762zM138 383H146V399H138zM296 383H304V399H296zM304 383H312V399H304zM312 383H321V399H312zM321 383H329V399H321zM412 383H421V399H412zM771 383H779V399H771zM338 399H346V415H338zM346 415H354V431H346zM429 415H438V431H429zM504 415H512V431H504zM346 431H354V447H346zM862 431H871V447H862zM346 447H354V463H346zM862 447H871V463H862zM862 463H871V479H862zM862 479H871V495H862zM862 495H871V511H862zM129 511H138V527H129zM421 511H429V527H421zM454 511H462V527H454zM471 527H479V535H471zM788 527H796V535H788zM854 527H862V535H854z"/><path fill="#b1f936" d="M812 143H821V159H812zM963 143H971V159H963zM146 159H154V175H146zM129 175H138V191H129zM512 175H521V191H512zM279 191H288V207H279zM821 207H829V223H821zM929 207H938V223H929zM429 223H438V239H429zM462 223H471V239H462zM612 255H621V271H612zM829 255H838V271H829zM546 271H554V287H546zM862 271H871V287H862zM162 287H171V303H162zM438 287H446V303H438zM929 287H938V303H929zM196 303H204V319H196zM479 303H488V319H479zM496 303H504V319H496zM488 319H496V335H488zM846 351H854V367H846zM854 351H862V367H854zM929 367H938V383H929zM179 383H188V399H179zM238 383H246V399H238zM679 383H688V399H679zM162 415H171V431H162zM271 415H279V431H271zM596 415H604V431H596zM296 447H304V463H296zM604 447H612V463H604zM604 463H612V479H604zM604 479H612V495H604zM604 495H612V511H604z"/><path fill="#f9bc39" d="M929 143H938V159H929zM421 159H429V175H421zM738 175H746V191H738zM154 191H162V207H154zM429 191H438V207H429zM471 191H479V207H471zM104 207H112V223H104zM621 207H629V223H621zM646 207H654V223H646zM100 223H104V239H100zM904 223H913V239H904zM162 255H171V271H162zM604 271H612V287H604zM996 303H1000V319H996zM954 367H963V383H954zM604 399H612V415H604zM721 431H729V447H721zM162 527H171V535H162z"/><path fill="#4ef97d" d="M954 143H963V159H954zM721 159H729V175H721zM512 191H521V207H512zM304 207H312V223H304zM312 207H321V223H312zM321 207H329V223H321zM812 223H821V239H812zM488 271H496V287H488zM879 271H888V287H879zM963 271H971V287H963zM971 271H979V287H971zM979 271H988V287H979zM988 271H996V287H988zM996 271H1000V287H996zM654 303H662V319H654zM112 319H121V335H112zM171 383H179V399H171zM704 383H712V399H704zM562 399H571V415H562zM946 399H954V415H946zM596 431H604V447H596zM879 431H888V447H879zM879 447H888V463H879zM879 463H888V479H879zM879 479H888V495H879zM312 495H321V511H312zM879 495H888V511H879zM312 511H321V527H312zM596 511H604V527H596zM988 511H996V527H988z"/><path fill="#da3907" d="M100 159H104V175H100zM296 159H304V175H296zM662 159H671V175H662zM100 175H104V191H100zM162 191H171V207H162zM538 319H546V335H538zM196 415H204V431H196zM179 431H188V447H179zM179 447H188V463H179zM221 447H229V463H221zM179 463H188V479H179zM221 463H229V479H221zM221 479H229V495H221zM221 495H229V511H221z"/><path fill="#99fe42" d="M138 159H146V175H138zM812 175H821V191H812zM504 191H512V207H504zM729 191H738V207H729zM988 191H996V207H988zM746 207H754V223H746zM929 223H938V239H929zM462 239H471V255H462zM604 239H612V255H604zM638 239H646V255H638zM438 255H446V271H438zM446 255H454V271H446zM896 255H904V271H896zM438 271H446V287H438zM454 271H462V287H454zM538 271H546V287H538zM638 287H646V303H638zM104 303H112V319H104zM829 303H838V319H829zM829 319H838V335H829zM646 335H654V351H646zM488 351H496V367H488zM838 351H846V367H838zM862 351H871V367H862zM504 367H512V383H504zM529 383H538V399H529zM579 399H588V415H579zM721 399H729V415H721zM888 431H896V447H888zM304 495H312V511H304zM304 511H312V527H304zM996 511H1000V527H996zM996 527H1000V535H996z"/><path fill="#d23105" d="M254 159H262V175H254zM188 511H196V527H188z"/><path fill="#f56918" d="M362 159H371V175H362zM429 175H438V191H429zM612 191H621V207H612zM638 191H646V207H638zM579 287H588V303H579zM604 287H612V303H604zM612 303H621V319H612zM971 335H979V351H971zM546 367H554V383H546zM629 367H638V383H629zM738 463H746V479H738zM738 479H746V495H738zM738 495H746V511H738zM229 511H238V527H229z"/><path fill="#e1dd37" d="M371 159H379V175H371zM512 159H521V175H512zM362 175H371V191H362zM421 175H429V191H421zM496 175H504V191H496zM762 175H771V191H762zM462 207H471V223H462zM921 207H929V223H921zM112 223H121V239H112zM100 239H104V255H100zM846 239H854V255H846zM896 239H904V255H896zM154 255H162V271H154zM221 255H229V271H221zM504 303H512V319H504zM846 303H854V319H846zM854 303H862V319H854zM629 319H638V335H629zM846 319H854V335H846zM854 319H862V335H854zM988 383H996V399H988zM596 399H604V415H596zM721 415H729V431H721zM754 415H762V431H754zM262 431H271V447H262zM762 431H771V447H762zM762 447H771V463H762zM162 463H171V479H162zM696 463H704V479H696zM704 463H712V479H704zM162 479H171V495H162zM696 479H704V495H696zM704 479H712V495H704zM696 495H704V511H696zM704 495H712V511H704zM762 495H771V511H762zM696 511H704V527H696zM704 511H712V527H704zM696 527H704V535H696zM704 527H712V535H704z"/><path fill="#3aa3fc" d="M388 159H396V175H388zM404 207H412V223H404zM712 207H721V223H712zM288 239H296V255H288zM354 239H362V255H354zM362 239H371V255H362zM729 255H738V271H729zM762 255H771V271H762zM796 287H804V303H796zM796 303H804V319H796zM704 319H712V335H704zM796 319H804V335H796zM796 335H804V351H796zM271 351H279V367H271zM404 367H412V383H404zM129 383H138V399H129zM329 383H338V399H329zM138 399H146V415H138zM346 399H354V415H346zM829 399H838V415H829zM512 415H521V431H512zM554 415H562V431H554zM963 431H971V447H963zM938 447H946V463H938zM462 511H471V527H462zM963 511H971V527H963zM396 527H404V535H396zM571 527H579V535H571z"/><path fill="#4776ee" d="M396 159H404V175H396zM279 271H288V287H279zM288 271H296V287H288zM312 287H321V303H312zM321 303H329V319H321zM738 303H746V319H738zM746 303H754V319H746zM754 303H762V319H754zM321 319H329V335H321zM738 319H746V335H738zM746 319H754V335H746zM754 319H762V335H754zM312 335H321V351H312zM321 335H329V351H321zM100 399H104V415H100zM104 399H112V415H104zM412 415H421V431H412zM129 431H138V447H129zM379 431H388V447H379zM796 431H804V447H796zM846 431H854V447H846zM379 447H388V463H379zM571 447H579V463H571zM796 447H804V463H796zM379 463H388V479H379zM496 463H504V479H496zM796 463H804V479H796zM129 479H138V495H129zM421 479H429V495H421zM488 479H496V495H488zM796 479H804V495H796zM488 495H496V511H488zM571 495H579V511H571zM796 495H804V511H796zM112 511H121V527H112zM838 511H846V527H838zM554 527H562V535H554z"/><path fill="#c6f034" d="M529 159H538V175H529zM538 159H546V175H538zM146 175H154V191H146zM729 175H738V191H729zM979 175H988V191H979zM138 191H146V207H138zM238 191H246V207H238zM296 191H304V207H296zM304 191H312V207H304zM312 191H321V207H312zM321 191H329V207H321zM329 191H338V207H329zM338 191H346V207H338zM929 191H938V207H929zM129 207H138V223H129zM662 207H671V223H662zM129 223H138V239H129zM121 239H129V255H121zM913 239H921V255H913zM104 255H112V271H104zM596 255H604V271H596zM862 255H871V271H862zM100 271H104V287H100zM554 271H562V287H554zM838 271H846V287H838zM938 287H946V303H938zM438 303H446V319H438zM862 303H871V319H862zM100 319H104V335H100zM862 319H871V335H862zM100 335H104V351H100zM638 335H646V351H638zM229 383H238V399H229zM704 415H712V431H704zM696 431H704V447H696zM288 447H296V463H288z"/><path fill="#dde037" d="M554 159H562V175H554zM929 175H938V191H929zM746 191H754V207H746zM996 191H1000V207H996zM229 207H238V223H229zM146 223H154V239H146zM146 239H154V255H146zM838 239H846V255H838zM562 271H571V287H562zM179 287H188V303H179zM204 287H212V303H204zM846 287H854V303H846zM854 287H862V303H854zM446 303H454V319H446zM454 303H462V319H454zM462 319H471V335H462zM929 319H938V335H929zM462 335H471V351H462zM929 335H938V351H929zM979 383H988V399H979zM162 447H171V463H162zM271 447H279V463H271zM696 447H704V463H696zM704 447H712V463H704zM279 479H288V495H279zM279 495H288V511H279zM279 511H288V527H279zM762 511H771V527H762z"/><path fill="#477bf2" d="M688 159H696V175H688zM396 175H404V191H396zM696 191H704V207H696zM271 271H279V287H271zM296 271H304V287H296zM262 287H271V303H262zM321 287H329V303H321zM738 287H746V303H738zM746 287H754V303H746zM754 287H762V303H754zM329 303H338V319H329zM729 303H738V319H729zM762 303H771V319H762zM329 319H338V335H329zM729 319H738V335H729zM762 319H771V335H762zM279 335H288V351H279zM329 335H338V351H329zM388 383H396V399H388zM396 383H404V399H396zM788 383H796V399H788zM112 399H121V415H112zM379 399H388V415H379zM404 399H412V415H404zM129 415H138V431H129zM379 415H388V431H379zM796 415H804V431H796zM804 415H812V431H804zM812 415H821V431H812zM821 415H829V431H821zM512 431H521V447H512zM504 447H512V463H504zM379 479H388V495H379zM388 495H396V511H388zM396 495H404V511H396zM404 495H412V511H404zM488 511H496V527H488zM804 511H812V527H804zM100 527H104V535H100zM488 527H496V535H488z"/><path fill="#424bb5" d="M696 159H704V175H696zM100 415H104V431H100zM112 431H121V447H112zM404 447H412V463H404zM538 447H546V463H538zM529 463H538V479H529zM562 463H571V479H562zM112 479H121V495H112zM529 479H538V495H529zM562 479H571V495H562zM104 495H112V511H104zM529 495H538V511H529z"/><path fill="#455ccf" d="M704 159H712V175H704zM112 415H121V431H112zM121 431H129V447H121zM412 431H421V447H412zM546 431H554V447H546zM412 447H421V463H412zM821 447H829V463H821zM829 447H838V463H829zM396 463H404V479H396zM412 463H421V479H412zM812 463H821V479H812zM838 463H846V479H838zM121 479H129V495H121zM812 479H821V495H812zM838 479H846V495H838zM112 495H121V511H112zM521 495H529V511H521zM812 495H821V511H812zM821 495H829V511H821zM829 495H838V511H829zM100 511H104V527H100zM529 511H538V527H529zM538 511H546V527H538zM546 511H554V527H546z"/><path fill="#2fb2f4" d="M788 159H796V175H788zM796 175H804V191H796zM379 191H388V207H379zM371 207H379V223H371zM963 207H971V223H963zM362 223H371V239H362zM712 223H721V239H712zM954 223H963V239H954zM996 223H1000V239H996zM404 239H412V255H404zM546 239H554V255H546zM988 239H996V255H988zM996 239H1000V255H996zM404 255H412V271H404zM712 255H721V271H712zM238 271H246V287H238zM238 287H246V303H238zM696 319H704V335H696zM754 367H762V383H754zM321 399H329V415H321zM421 399H429V415H421zM338 415H346V431H338zM438 415H446V431H438zM446 415H454V431H446zM454 415H462V431H454zM462 415H471V431H462zM471 415H479V431H471zM479 415H488V431H479zM488 415H496V431H488zM862 415H871V431H862zM971 447H979V463H971zM138 495H146V511H138zM121 527H129V535H121zM963 527H971V535H963z"/><path fill="#b7f735" d="M138 175H146V191H138zM496 191H504V207H496zM129 255H138V271H129zM879 255H888V271H879zM104 271H112V287H104zM146 271H154V287H146zM221 271H229V287H221zM454 287H462V303H454zM504 287H512V303H504zM496 319H504V335H496zM638 319H646V335H638zM488 335H496V351H488zM838 335H846V351H838zM862 335H871V351H862zM462 351H471V367H462zM896 431H904V447H896zM904 431H913V447H904z"/><path fill="#fe9e2f" d="M254 175H262V191H254zM262 175H271V191H262zM271 175H279V191H271zM279 175H288V191H279zM746 175H754V191H746zM946 351H954V367H946zM996 351H1000V367H996zM746 431H754V447H746zM754 463H762V479H754zM754 479H762V495H754z"/><path fill="#fe932a" d="M321 175H329V191H321zM204 399H212V415H204zM238 527H246V535H238z"/><path fill="#65fd69" d="M529 175H538V191H529zM546 175H554V191H546zM971 175H979V191H971zM729 207H738V223H729zM812 207H821V223H812zM504 271H512V287H504zM821 271H829V287H821zM921 271H929V287H921zM929 271H938V287H929zM662 351H671V367H662zM829 351H838V367H829zM204 367H212V383H204zM479 367H488V383H479zM496 367H504V383H496zM712 383H721V399H712zM288 415H296V431H288zM921 415H929V431H921zM154 479H162V495H154zM921 511H929V527H921zM879 527H888V535H879z"/><path fill="#acfb38" d="M562 175H571V191H562zM771 175H779V191H771zM596 223H604V239H596zM446 239H454V255H446zM612 239H621V255H612zM921 239H929V255H921zM888 255H896V271H888zM112 271H121V287H112zM138 271H146V287H138zM462 287H471V303H462zM188 303H196V319H188zM488 303H496V319H488zM638 303H646V319H638zM438 351H446V367H438zM471 351H479V367H471zM738 399H746V415H738zM746 399H754V415H746zM288 431H296V447H288z"/><path fill="#458afc" d="M688 175H696V191H688zM396 191H404V207H396zM246 223H254V239H246zM246 239H254V255H246zM254 239H262V255H254zM262 239H271V255H262zM254 255H262V271H254zM262 255H271V271H262zM288 255H296V271H288zM254 271H262V287H254zM329 271H338V287H329zM338 271H346V287H338zM738 271H746V287H738zM746 271H754V287H746zM754 271H762V287H754zM762 271H771V287H762zM771 271H779V287H771zM254 287H262V303H254zM346 287H354V303H346zM354 287H362V303H354zM721 287H729V303H721zM346 303H354V319H346zM354 303H362V319H354zM721 303H729V319H721zM779 303H788V319H779zM346 319H354V335H346zM354 319H362V335H354zM721 319H729V335H721zM779 319H788V335H779zM346 335H354V351H346zM354 335H362V351H354zM729 335H738V351H729zM762 335H771V351H762zM771 335H779V351H771zM329 351H338V367H329zM338 351H346V367H338zM788 367H796V383H788zM371 383H379V399H371zM779 383H788V399H779zM804 383H812V399H804zM838 415H846V431H838zM429 431H438V447H429zM504 431H512V447H504zM571 431H579V447H571zM854 431H862V447H854zM429 447H438V463H429zM488 447H496V463H488zM438 463H446V479H438zM471 463H479V479H471zM479 463H488V479H479zM429 479H438V495H429zM471 479H479V495H471zM129 495H138V511H129zM421 495H429V511H421zM471 495H479V511H471zM121 511H129V527H121zM371 511H379V527H371zM379 511H388V527H379zM388 511H396V527H388zM479 511H488V527H479zM571 511H579V527H571zM796 511H804V527H796zM104 527H112V535H104zM562 527H571V535H562zM812 527H821V535H812zM821 527H829V535H821zM829 527H838V535H829zM838 527H846V535H838z"/><path fill="#4661d6" d="M696 175H704V191H696zM396 415H404V431H396zM404 415H412V431H404zM538 431H546V447H538zM554 431H562V447H554zM521 447H529V463H521zM812 447H821V463H812zM838 447H846V463H838zM512 463H521V479H512zM512 479H521V495H512zM512 495H521V511H512zM838 495H846V511H838zM521 511H529V527H521zM554 511H562V527H554z"/><path fill="#1ce6b4" d="M963 175H971V191H963zM512 207H521V223H512zM504 223H512V239H504zM812 271H821V287H812zM671 287H679V303H671zM671 319H679V335H671zM238 351H246V367H238zM879 351H888V367H879zM262 383H271V399H262zM896 383H904V399H896zM904 383H913V399H904zM154 399H162V415H154zM312 431H321V447H312z"/><path fill="#d4e735" d="M121 191H129V207H121zM121 207H129V223H121zM204 383H212V399H204z"/><path fill="#8bff4b" d="M262 191H271V207H262zM571 191H579V207H571zM771 191H779V207H771zM421 207H429V223H421zM738 207H746V223H738zM754 207H762V223H754zM588 223H596V239H588zM471 239H479V255H471zM596 239H604V255H596zM462 255H471V271H462zM904 255H913V271H904zM462 271H471V287H462zM529 271H538V287H529zM871 271H879V287H871zM112 287H121V303H112zM171 303H179V319H171zM871 303H879V319H871zM921 303H929V319H921zM646 319H654V335H646zM871 319H879V335H871zM829 335H838V351H829zM446 367H454V383H446zM454 367H462V383H454zM671 367H679V383H671zM846 367H854V383H846zM971 399H979V415H971zM279 415H288V431H279zM888 415H896V431H888zM296 431H304V447H296zM304 463H312V479H304zM154 495H162V511H154z"/><path fill="#9ffd3f" d="M271 191H279V207H271zM104 287H112V303H104zM204 303H212V319H204z"/><path fill="#18d9c8" d="M371 191H379V207H371zM804 191H812V207H804zM271 207H279V223H271zM521 207H529V223H521zM562 207H571V223H562zM679 207H688V223H679zM804 207H812V223H804zM804 223H812V239H804zM804 239H812V255H804zM521 255H529V271H521zM529 255H538V271H529zM679 255H688V271H679zM954 255H963V271H954zM229 287H238V303H229zM679 287H688V303H679zM812 287H821V303H812zM812 303H821V319H812zM129 319H138V335H129zM154 319H162V335H154zM229 319H238V335H229zM812 319H821V335H812zM204 335H212V351H204zM212 335H221V351H212zM221 335H229V351H221zM229 335H238V351H229zM679 335H688V351H679zM121 351H129V367H121zM696 367H704V383H696zM904 367H913V383H904zM162 383H171V399H162zM829 383H838V399H829zM446 399H454V415H446zM454 399H462V415H454zM521 399H529V415H521zM529 399H538V415H529zM871 399H879V415H871zM971 415H979V431H971zM929 431H938V447H929zM329 511H338V527H329zM588 511H596V527H588zM929 511H938V527H929zM329 527H338V535H329z"/><path fill="#2cf09e" d="M521 191H529V207H521zM746 223H754V239H746zM671 239H679V255H671zM938 239H946V255H938zM662 271H671V287H662zM662 287H671V303H662zM662 303H671V319H662zM179 319H188V335H179zM829 367H838V383H829zM471 383H479V399H471zM504 383H512V399H504zM846 383H854V399H846zM871 383H879V399H871zM154 415H162V431H154zM312 447H321V463H312z"/><path fill="#e5d938" d="M588 191H596V207H588zM854 239H862V255H854zM862 239H871V255H862zM871 239H879V255H871zM879 239H888V255H879zM888 239H896V255H888zM446 319H454V335H446zM454 319H462V335H454zM446 335H454V351H446zM454 335H462V351H454zM938 367H946V383H938zM996 383H1000V399H996zM254 415H262V431H254zM271 463H279V479H271zM762 463H771V479H762zM271 479H279V495H271zM762 479H771V495H762zM271 495H279V511H271zM271 511H279V527H271zM271 527H279V535H271z"/><path fill="#19e3b9" d="M679 191H688V207H679zM721 191H729V207H721zM354 207H362V223H354zM779 207H788V223H779zM571 223H579V239H571zM729 223H738V239H729zM771 223H779V239H771zM504 255H512V271H504zM546 255H554V271H546zM896 287H904V303H896zM671 303H679V319H671zM162 319H171V335H162zM121 335H129V351H121zM212 351H221V367H212zM679 351H688V367H679zM421 367H429V383H421zM879 367H888V383H879zM288 399H296V415H288zM304 415H312V431H304zM579 415H588V431H579zM321 463H329V479H321zM146 495H154V511H146zM929 527H938V535H929z"/><path fill="#4680f6" d="M704 191H712V207H704zM279 255H288V271H279zM262 271H271V287H262zM304 271H312V287H304zM312 271H321V287H312zM329 287H338V303H329zM729 287H738V303H729zM762 287H771V303H762zM262 303H271V319H262zM338 303H346V319H338zM771 303H779V319H771zM271 319H279V335H271zM338 319H346V335H338zM771 319H779V335H771zM338 335H346V351H338zM746 335H754V351H746zM296 351H304V367H296zM304 351H312V367H304zM312 351H321V367H312zM379 383H388V399H379zM796 383H804V399H796zM829 415H838V431H829zM371 431H379V447H371zM371 447H379V463H371zM496 447H504V463H496zM854 447H862V463H854zM371 463H379V479H371zM429 463H438V479H429zM488 463H496V479H488zM854 463H862V479H854zM479 479H488V495H479zM854 479H862V495H854zM379 495H388V511H379zM412 495H421V511H412zM479 495H488V511H479zM854 495H862V511H854zM846 511H854V527H846z"/><path fill="#1ccdd8" d="M788 191H796V207H788zM963 191H971V207H963zM538 207H546V223H538zM554 207H562V223H554zM788 207H796V223H788zM321 223H329V239H321zM329 223H338V239H329zM521 223H529V239H521zM788 223H796V239H788zM796 223H804V239H796zM562 239H571V255H562zM746 239H754V255H746zM754 239H762V255H754zM762 239H771V255H762zM771 239H779V255H771zM779 239H788V255H779zM788 239H796V255H788zM796 239H804V255H796zM688 255H696V271H688zM696 255H704V271H696zM696 271H704V287H696zM688 287H696V303H688zM888 319H896V335H888zM129 335H138V351H129zM162 335H171V351H162zM171 335H179V351H171zM888 335H896V351H888zM129 351H138V367H129zM162 351H171V367H162zM171 351H179V367H171zM412 351H421V367H412zM812 351H821V367H812zM888 351H896V367H888zM121 367H129V383H121zM146 367H154V383H146zM712 367H721V383H712zM721 367H729V383H721zM896 367H904V383H896zM762 383H771V399H762zM296 399H304V415H296zM429 399H438V415H429zM946 415H954V431H946zM954 415H963V431H954zM329 447H338V463H329zM588 447H596V463H588zM979 447H988V463H979zM979 463H988V479H979zM979 479H988V495H979zM588 495H596V511H588zM979 495H988V511H979zM779 511H788V527H779zM862 527H871V535H862zM971 527H979V535H971z"/><path fill="#25c0e7" d="M796 191H804V207H796zM354 223H362V239H354zM538 223H546V239H538zM554 223H562V239H554zM529 239H538V255H529zM696 239H704V255H696zM704 255H712V271H704zM696 287H704V303H696zM896 319H904V335H896zM896 335H904V351H896zM412 367H421V383H412zM738 367H746V383H738zM154 383H162V399H154zM146 399H154V415H146zM304 399H312V415H304zM779 415H788V431H779zM338 463H346V479H338zM338 479H346V495H338zM338 495H346V511H338zM938 527H946V535H938z"/><path fill="#d9e436" d="M146 207H154V223H146zM829 223H838V239H829zM104 239H112V255H104zM904 239H913V255H904zM846 271H854V287H846zM512 287H521V303H512zM504 351H512V367H504zM929 351H938V367H929zM196 383H204V399H196zM546 383H554V399H546zM971 383H979V399H971zM246 399H254V415H246zM279 463H288V479H279zM279 527H288V535H279zM762 527H771V535H762z"/><path fill="#1ad2d2" d="M238 207H246V223H238zM412 207H421V223H412zM529 207H538V223H529zM946 207H954V223H946zM296 223H304V239H296zM304 223H312V239H304zM312 223H321V239H312zM412 223H421V239H412zM562 223H571V239H562zM721 223H729V239H721zM946 223H954V239H946zM512 239H521V255H512zM946 239H954V255H946zM412 271H421V287H412zM412 287H421V303H412zM412 303H421V319H412zM412 319H421V335H412zM904 319H913V335H904zM179 335H188V351H179zM188 335H196V351H188zM412 335H421V351H412zM904 335H913V351H904zM179 351H188V367H179zM188 351H196V367H188zM254 351H262V367H254zM704 367H712V383H704zM821 367H829V383H821zM888 367H896V383H888zM271 383H279V399H271zM421 383H429V399H421zM862 399H871V415H862zM312 415H321V431H312zM963 415H971V431H963zM871 431H879V447H871zM979 431H988V447H979zM871 447H879V463H871zM329 463H338V479H329zM871 463H879V479H871zM146 479H154V495H146zM871 479H879V495H871zM871 495H879V511H871zM138 511H146V527H138zM129 527H138V535H129zM429 527H438V535H429zM438 527H446V535H438zM446 527H454V535H446z"/><path fill="#33adf7" d="M254 207H262V223H254zM371 223H379V239H371zM696 223H704V239H696zM704 223H712V239H704zM988 223H996V239H988zM963 239H971V255H963zM971 239H979V255H971zM979 239H988V255H979zM238 255H246V271H238zM721 255H729V271H721zM779 255H788V271H779zM404 271H412V287H404zM404 287H412V303H404zM704 287H712V303H704zM404 303H412V319H404zM404 319H412V335H404zM404 335H412V351H404zM404 351H412V367H404zM812 367H821V383H812zM146 383H154V399H146zM288 383H296V399H288zM329 399H338V415H329zM838 399H846V415H838zM496 415H504V431H496zM562 415H571V431H562zM579 431H588V447H579zM938 431H946V447H938zM346 463H354V479H346zM971 463H979V479H971zM346 479H354V495H346zM971 479H979V495H971zM346 495H354V511H346zM971 495H979V511H971zM346 511H354V527H346zM429 511H438V527H429zM438 511H446V527H438zM446 511H454V527H446zM579 511H588V527H579zM938 511H946V527H938zM346 527H354V535H346zM404 527H412V535H404zM946 527H954V535H946zM954 527H963V535H954z"/><path fill="#fa7b1f" d="M871 207H879V223H871zM888 207H896V223H888zM171 447H179V463H171zM171 463H179V479H171z"/><path fill="#28bceb" d="M954 207H963V223H954zM971 207H979V223H971zM238 223H246V239H238zM279 223H288V239H279zM546 223H554V239H546zM688 223H696V239H688zM238 239H246V255H238zM538 239H546V255H538zM554 239H562V255H554zM704 239H712V255H704zM712 239H721V255H712zM954 239H963V255H954zM788 255H796V271H788zM704 271H712V287H704zM804 287H812V303H804zM238 303H246V319H238zM696 303H704V319H696zM804 303H812V319H804zM246 319H254V335H246zM804 319H812V335H804zM696 335H704V351H696zM804 335H812V351H804zM262 351H271V367H262zM271 367H279V383H271zM746 367H754V383H746zM279 383H288V399H279zM821 383H829V399H821zM312 399H321V415H312zM846 399H854V415H846zM146 415H154V431H146zM329 415H338V431H329zM146 431H154V447H146zM971 431H979V447H971zM146 447H154V463H146zM862 511H871V527H862zM971 511H979V527H971zM412 527H421V535H412zM462 527H471V535H462z"/><path fill="#1fc9dd" d="M288 223H296V239H288zM338 223H346V239H338zM738 239H746V255H738zM688 303H696V319H688zM238 319H246V335H238zM138 335H146V351H138zM154 335H162V351H154zM688 335H696V351H688zM138 351H146V367H138zM154 351H162V367H154zM138 367H146V383H138zM454 527H462V535H454z"/><path fill="#3d9efe" d="M388 223H396V239H388zM371 239H379V255H371zM288 367H296V383H288zM121 383H129V399H121zM354 463H362V479H354zM354 479H362V495H354zM354 495H362V511H354zM354 527H362V535H354z"/><path fill="#bcf534" d="M438 223H446V239H438zM454 223H462V239H454zM121 255H129V271H121z"/><path fill="#fdae35" d="M871 223H879V239H871zM888 223H896V239H888zM171 415H179V431H171z"/><path fill="#ec530f" d="M171 239H179V255H171zM204 255H212V271H204zM571 367H579V383H571zM629 383H638V399H629zM621 431H629V447H621zM621 447H629V463H621zM621 463H629V479H621zM621 479H629V495H621zM621 495H629V511H621zM621 511H629V527H621zM179 527H188V535H179zM621 527H629V535H621z"/><path fill="#84ff51" d="M654 239H662V255H654zM638 271H646V287H638z"/><path fill="#4685fa" d="M271 255H279V271H271zM321 271H329V287H321zM338 287H346V303H338zM771 287H779V303H771zM738 335H746V351H738zM754 335H762V351H754zM288 351H296V367H288zM321 351H329V367H321zM121 399H129V415H121zM371 399H379V415H371zM371 415H379V431H371zM371 479H379V495H371zM371 495H379V511H371z"/><path fill="#38f491" d="M488 255H496V271H488zM188 319H196V335H188z"/><path fill="#5dfc6f" d="M938 271H946V287H938zM654 319H662V335H654zM104 351H112V367H104zM238 367H246V383H238zM154 463H162V479H154z"/><path fill="#e9d539" d="M188 287H196V303H188zM238 399H246V415H238z"/><path fill="#466be3" d="M288 287H296V303H288zM304 303H312V319H304zM288 319H296V335H288zM304 319H312V335H304zM388 415H396V431H388zM121 495H129V511H121zM521 527H529V535H521zM538 527H546V535H538z"/><path fill="#2cb7f0" d="M254 335H262V351H254zM704 351H712V367H704zM338 431H346V447H338zM338 447H346V463H338z"/><path fill="#22ebaa" d="M671 335H679V351H671zM254 367H262V383H254zM321 511H329V527H321z"/><path fill="#18ddc2" d="M204 351H212V367H204z"/><path fill="#f15d13" d="M554 367H562V383H554z"/><path fill="#e4450a" d="M588 367H596V383H588zM221 527H229V535H221z"/><path fill="#4451bf" d="M104 415H112V431H104zM396 431H404V447H396zM404 431H412V447H404zM396 447H404V463H396zM529 447H538V463H529zM562 447H571V463H562zM404 463H412V479H404zM521 463H529V479H521zM821 463H829V479H821zM829 463H838V479H829zM521 479H529V495H521zM821 479H829V495H821zM829 479H838V495H829zM562 495H571V511H562z"/><path fill="#3f3b97" d="M104 431H112V447H104zM104 479H112V495H104z"/><path fill="#392a73" d="M100 447H104V463H100zM104 463H112V479H104zM100 479H104V495H100z"/><path fill="#4456c7" d="M121 447H129V463H121zM121 463H129V479H121z"/><path fill="#33184a" d="M100 463H104V479H100z"/><rect x="196" y="135" width="8" height="8" fill="#fff"/><rect x="100" y="463" width="4" height="16" fill="#000"/></svg>
<svg width="1100" height="750" viewBox="0 0 1100 750"><defs><linearGradient id="cb" x1="0" y1="0" x2="0" y2="1"><stop offset="0.0000" stop-color="#7a0403"/><stop offset="0.0125" stop-color="#7a0403"/><stop offset="0.0250" stop-color="#7e0502"/><stop offset="0.0375" stop-color="#7e0502"/><stop offset="0.0500" stop-color="#810602"/><stop offset="0.0625" stop-color="#810602"/><stop offset="0.0750" stop-color="#850702"/><stop offset="0.0875" stop-color="#850702"/><stop offset="0.1000" stop-color="#880802"/><stop offset="0.1125" stop-color="#880802"/><stop offset="0.1250" stop-color="#8b0902"/><stop offset="0.1375" stop-color="#8e0a01"/><stop offset="0.1500" stop-color="#920b01"/><stop offset="0.1625" stop-color="#920b01"/><stop offset="0.1750" stop-color="#950d01"/><stop offset="0.1875" stop-color="#980e01"/><stop offset="0.2000" stop-color="#9b0f01"/><stop offset="0.2125" stop-color="#9b0f01"/><stop offset="0.2250" stop-color="#9e1001"/><stop offset="0.2375" stop-color="#a11201"/><stop offset="0.2500" stop-color="#a41301"/><stop offset="0.2625" stop-color="#a41301"/><stop offset="0.2750" stop-color="#a71401"/><stop offset="0.2875" stop-color="#a71401"/><stop offset="0.3000" stop-color="#a91601"/><stop offset="0.3125" stop-color="#ac1701"/><stop offset="0.3250" stop-color="#ac1701"/><stop offset="0.3375" stop-color="#af1801"/><stop offset="0.3500" stop-color="#b21a01"/><stop offset="0.3625" stop-color="#b21a01"/><stop offset="0.3750" stop-color="#b41b01"/><stop offset="0.3875" stop-color="#b71d02"/><stop offset="0.4000" stop-color="#b91e02"/><stop offset="0.4125" stop-color="#b91e02"/><stop offset="0.4250" stop-color="#bc2002"/><stop offset="0.4375" stop-color="#be2102"/><stop offset="0.4500" stop-color="#c12302"/><stop offset="0.4625" stop-color="#c32503"/><stop offset="0.4750" stop-color="#c52603"/><stop offset="0.4875" stop-color="#c82803"/><stop offset="0.5000" stop-color="#ca2a04"/><stop offset="0.5125" stop-color="#cc2b04"/><stop offset="0.5250" stop-color="#d02f05"/><stop offset="0.5375" stop-color="#d43305"/><stop offset="0.5500" stop-color="#da3907"/><stop offset="0.5625" stop-color="#e14109"/><stop offset="0.5750" stop-color="#e7490c"/><stop offset="0.5875" stop-color="#ed5510"/><stop offset="0.6000" stop-color="#f46617"/><stop offset="0.6125" stop-color="#f9751d"/><stop offset="0.6250" stop-color="#fc8725"/><stop offset="0.6375" stop-color="#fe9b2d"/><stop offset="0.6500" stop-color="#fcb136"/><stop offset="0.6625" stop-color="#f6c33a"/><stop offset="0.6750" stop-color="#ecd13a"/><stop offset="0.6875" stop-color="#dde037"/><stop offset="0.7000" stop-color="#cbed34"/><stop offset="0.7125" stop-color="#b9f635"/><stop offset="0.7250" stop-color="#a4fc3c"/><stop offset="0.7375" stop-color="#8bff4b"/><stop offset="0.7500" stop-color="#71fe5f"/><stop offset="0.7625" stop-color="#52fa7a"/><stop offset="0.7750" stop-color="#35f394"/><stop offset="0.7875" stop-color="#20eaac"/><stop offset="0.8000" stop-color="#18e0bd"/><stop offset="0.8125" stop-color="#1ad2d2"/><stop offset="0.8250" stop-color="#25c0e7"/><stop offset="0.8375" stop-color="#33adf7"/><stop offset="0.8500" stop-color="#3e9bfe"/><stop offset="0.8625" stop-color="#458cfd"/><stop offset="0.8750" stop-color="#467df4"/><stop offset="0.8875" stop-color="#476ee6"/><stop offset="0.9000" stop-color="#4664da"/><stop offset="0.9125" stop-color="#4559cb"/><stop offset="0.9250" stop-color="#4451bf"/><stop offset="0.9375" stop-color="#4146ac"/><stop offset="0.9500" stop-color="#3f3b97"/><stop offset="0.9625" stop-color="#3c3286"/><stop offset="0.9750" stop-color="#38276d"/><stop offset="0.9875" stop-color="#341b51"/><stop offset="1.0000" stop-color="#30123b"/></linearGradient></defs><rect x="1030.5" y="135.0" width="20.0" height="400.0" fill="url(#cb)" stroke="#000" stroke-width="2.2" stroke-linejoin="round"/><path d="M1030.5 490.01H1057.0" stroke="#000" stroke-width="1"/><text x="1064.3" y="493.8" font-size="10.4" font-weight="bold" font-family="Liberation Sans">0.039</text><path d="M1030.5 438.56H1057.0" stroke="#000" stroke-width="1"/><text x="1064.3" y="442.4" font-size="10.4" font-weight="bold" font-family="Liberation Sans">0.078</text><path d="M1030.5 387.11H1057.0" stroke="#000" stroke-width="1"/><text x="1064.3" y="390.9" font-size="10.4" font-weight="bold" font-family="Liberation Sans">0.117</text><path d="M1030.5 335.66H1057.0" stroke="#000" stroke-width="1"/><text x="1064.3" y="339.5" font-size="10.4" font-weight="bold" font-family="Liberation Sans">0.156</text><path d="M1030.5 284.21H1057.0" stroke="#000" stroke-width="1"/><text x="1064.3" y="288.0" font-size="10.4" font-weight="bold" font-family="Liberation Sans">0.195</text><path d="M1030.5 232.76H1057.0" stroke="#000" stroke-width="1"/><text x="1064.3" y="236.6" font-size="10.4" font-weight="bold" font-family="Liberation Sans">0.234</text><path d="M1030.5 181.31H1057.0" stroke="#000" stroke-width="1"/><text x="1064.3" y="185.1" font-size="10.4" font-weight="bold" font-family="Liberation Sans">0.273</text><path d="M1030.2 135.0H1050.8M1030.2 535.0H1050.8" stroke="#000" stroke-width="2.4" stroke-linecap="round"/><rect x="100.0" y="134.8" width="900.0" height="400.2" fill="none" stroke="#000" stroke-width="1.5"/><path d="M100.00 134.8v-7M100.00 535.0v7M150.00 134.8v-7M150.00 535.0v7M200.00 134.8v-7M200.00 535.0v7M250.00 134.8v-7M250.00 535.0v7M300.00 134.8v-7M300.00 535.0v7M350.00 134.8v-7M350.00 535.0v7M400.00 134.8v-7M400.00 535.0v7M450.00 134.8v-7M450.00 535.0v7M500.00 134.8v-7M500.00 535.0v7M550.00 134.8v-7M550.00 535.0v7M600.00 134.8v-7M600.00 535.0v7M650.00 134.8v-7M650.00 535.0v7M700.00 134.8v-7M700.00 535.0v7M750.00 134.8v-7M750.00 535.0v7M800.00 134.8v-7M800.00 535.0v7M850.00 134.8v-7M850.00 535.0v7M900.00 134.8v-7M900.00 535.0v7M950.00 134.8v-7M950.00 535.0v7M1000.00 134.8v-7M1000.00 535.0v7M100.0 134.80h-7.0M1000.0 134.80h7.0M100.0 150.81h-4.0M1000.0 150.81h4.0M100.0 166.82h-4.0M1000.0 166.82h4.0M100.0 182.82h-4.0M1000.0 182.82h4.0M100.0 198.83h-4.0M1000.0 198.83h4.0M100.0 214.84h-7.0M1000.0 214.84h7.0M100.0 230.85h-4.0M1000.0 230.85h4.0M100.0 246.86h-4.0M1000.0 246.86h4.0M100.0 262.86h-4.0M1000.0 262.86h4.0M100.0 278.87h-4.0M1000.0 278.87h4.0M100.0 294.88h-7.0M1000.0 294.88h7.0M100.0 310.89h-4.0M1000.0 310.89h4.0M100.0 326.90h-4.0M1000.0 326.90h4.0M100.0 342.90h-4.0M1000.0 342.90h4.0M100.0 358.91h-4.0M1000.0 358.91h4.0M100.0 374.92h-7.0M1000.0 374.92h7.0M100.0 390.93h-4.0M1000.0 390.93h4.0M100.0 406.94h-4.0M1000.0 406.94h4.0M100.0 422.94h-4.0M1000.0 422.94h4.0M100.0 438.95h-4.0M1000.0 438.95h4.0M100.0 454.96h-7.0M1000.0 454.96h7.0M100.0 470.97h-4.0M1000.0 470.97h4.0M100.0 486.98h-4.0M1000.0 486.98h4.0M100.0 502.98h-4.0M1000.0 502.98h4.0M100.0 518.99h-4.0M1000.0 518.99h4.0M100.0 535.00h-7.0M1000.0 535.00h7.0" stroke="#000" stroke-width="1.5" fill="none"/><text x="100.0" y="562" font-size="17.5" text-anchor="middle" font-family="Liberation Sans">0</text><text x="150.0" y="562" font-size="17.5" text-anchor="middle" font-family="Liberation Sans">3</text><text x="200.0" y="562" font-size="17.5" text-anchor="middle" font-family="Liberation Sans">6</text><text x="250.0" y="562" font-size="17.5" text-anchor="middle" font-family="Liberation Sans">9</text><text x="300.0" y="562" font-size="17.5" text-anchor="middle" font-family="Liberation Sans">12</text><text x="350.0" y="562" font-size="17.5" text-anchor="middle" font-family="Liberation Sans">15</text><text x="400.0" y="562" font-size="17.5" text-anchor="middle" font-family="Liberation Sans">18</text><text x="450.0" y="562" font-size="17.5" text-anchor="middle" font-family="Liberation Sans">21</text><text x="500.0" y="562" font-size="17.5" text-anchor="middle" font-family="Liberation Sans">0</text><text x="550.0" y="562" font-size="17.5" text-anchor="middle" font-family="Liberation Sans">3</text><text x="600.0" y="562" font-size="17.5" text-anchor="middle" font-family="Liberation Sans">6</text><text x="650.0" y="562" font-size="17.5" text-anchor="middle" font-family="Liberation Sans">9</text><text x="700.0" y="562" font-size="17.5" text-anchor="middle" font-family="Liberation Sans">12</text><text x="750.0" y="562" font-size="17.5" text-anchor="middle" font-family="Liberation Sans">15</text><text x="800.0" y="562" font-size="17.5" text-anchor="middle" font-family="Liberation Sans">18</text><text x="850.0" y="562" font-size="17.5" text-anchor="middle" font-family="Liberation Sans">21</text><text x="900.0" y="562" font-size="17.5" text-anchor="middle" font-family="Liberation Sans">0</text><text x="950.0" y="562" font-size="17.5" text-anchor="middle" font-family="Liberation Sans">3</text><text x="1000.0" y="562" font-size="17.5" text-anchor="middle" font-family="Liberation Sans">6</text><text x="87.6" y="140.8" font-size="17.5" text-anchor="end" font-family="Liberation Sans">0</text><text x="87.6" y="220.8" font-size="17.5" text-anchor="end" font-family="Liberation Sans">5</text><text x="87.6" y="300.9" font-size="17.5" text-anchor="end" font-family="Liberation Sans">10</text><text x="87.6" y="380.9" font-size="17.5" text-anchor="end" font-family="Liberation Sans">15</text><text x="87.6" y="461.0" font-size="17.5" text-anchor="end" font-family="Liberation Sans">20</text><text x="87.6" y="541.0" font-size="17.5" text-anchor="end" font-family="Liberation Sans">25</text><text x="300.0" y="578.5" font-size="11" text-anchor="middle" font-style="italic" font-family="Liberation Mono" fill="#333">AUG 24</text><text x="700.0" y="578.5" font-size="11" text-anchor="middle" font-style="italic" font-family="Liberation Mono" fill="#333">AUG 25</text><text x="950.0" y="578.5" font-size="11" text-anchor="middle" font-style="italic" font-family="Liberation Mono" fill="#333">AUG 26</text></svg>
</body></html>
